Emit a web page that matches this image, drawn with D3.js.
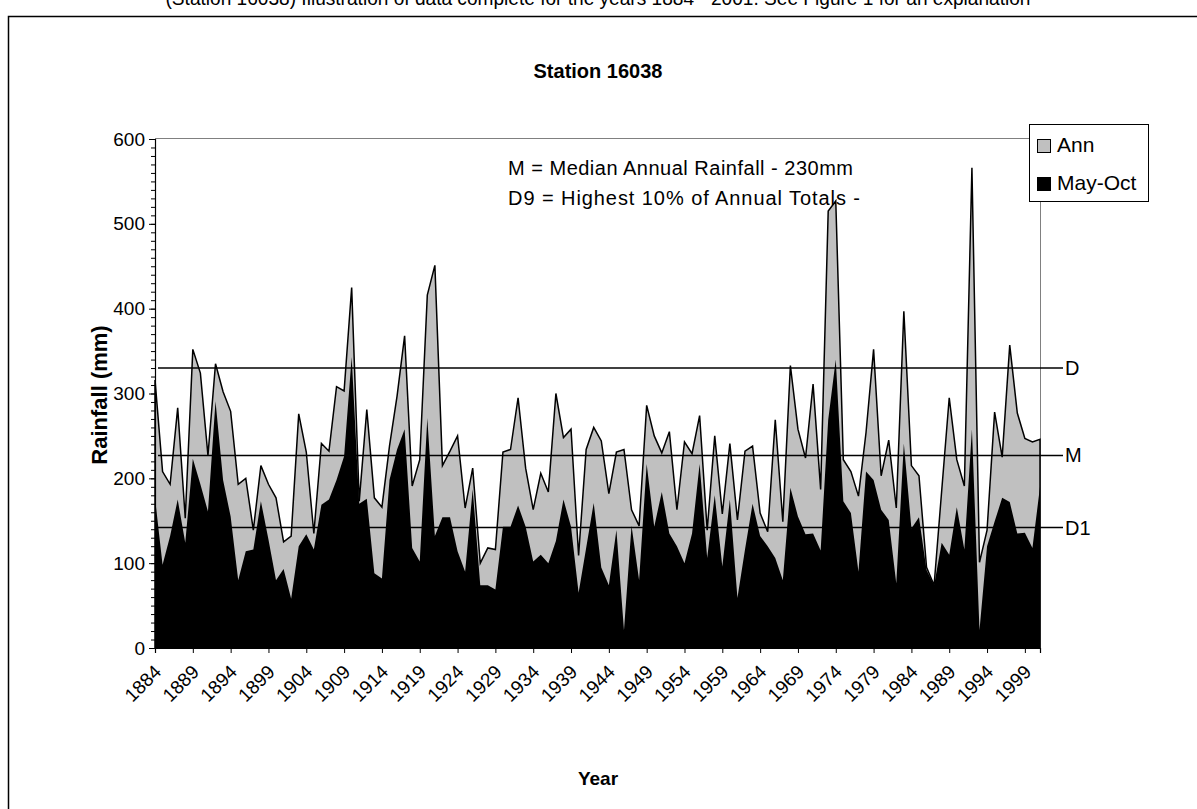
<!DOCTYPE html>
<html>
<head>
<meta charset="utf-8">
<script src="https://cdn.jsdelivr.net/npm/d3@7"></script>
<style>
  body { margin: 0; background: #fff; }
  text { font-family: Arial, "Liberation Sans", sans-serif; }
</style>
</head>
<body>
<div id="wrapper"></div>
<script>
// data, 1884 - 2001
const firstYear = 1884;
const annRain = [
  316, 208, 193, 283, 153, 352, 324, 227, 335, 302,
  279, 193, 200, 139, 215, 193, 177, 125, 132, 276,
  231, 135, 241, 232, 308, 303, 425, 173, 281, 177,
  166, 238, 297, 368, 191, 222, 416, 451, 215, 232,
  250, 165, 212, 100, 118, 116, 231, 234, 295, 212,
  163, 206, 184, 300, 248, 258, 109, 234, 260, 244,
  182, 231, 234, 163, 144, 286, 250, 230, 255, 163,
  243, 229, 274, 139, 250, 158, 241, 151, 232, 238,
  159, 137, 269, 149, 333, 258, 224, 311, 187, 515,
  527, 222, 208, 179, 254, 352, 203, 245, 165, 397,
  215, 203, 95, 74, 185, 295, 222, 191, 566, 101,
  139, 278, 225, 357, 277, 247, 243, 246
];
const mayOctRain = [
  177, 98, 132, 175, 124, 223, 193, 161, 291, 198,
  155, 80, 114, 116, 173, 128, 80, 93, 58, 120,
  134, 116, 169, 175, 198, 226, 343, 170, 176, 88,
  82, 198, 234, 258, 118, 102, 271, 132, 154, 154,
  114, 90, 187, 74, 74, 69, 143, 143, 168, 143,
  102, 110, 100, 126, 175, 143, 65, 118, 171, 95,
  74, 139, 21, 144, 80, 217, 143, 184, 135, 120,
  100, 135, 217, 106, 180, 96, 175, 59, 116, 170,
  132, 120, 106, 80, 189, 155, 134, 135, 115, 269,
  340, 173, 159, 90, 208, 198, 163, 151, 76, 241,
  141, 154, 92, 74, 124, 110, 166, 116, 258, 21,
  120, 149, 177, 172, 135, 136, 118, 190
];
const refLabels = ["D", "M", "D1"];
const refValues = [330, 227, 142];
const yTicks = [0, 100, 200, 300, 400, 500, 600];
const legendLabels = ["Ann", "May-Oct"];
const legendColors = ["#c0c0c0", "#000000"];

function drawChart() {
  const years = annRain.map((d, i) => firstYear + i);
  const dataset = years.map((y, i) => ({ year: y, ann: annRain[i], mayOct: mayOctRain[i] }));
  const xAccessor = (d) => d.year;

  // dimensions
  let dimensions = {
    width: 1197,
    height: 809,
    margin: { top: 139, bottom: 161, left: 155, right: 157 },
  };
  dimensions.boundedWidth = dimensions.width - dimensions.margin.left - dimensions.margin.right;
  dimensions.boundedHeight = dimensions.height - dimensions.margin.top - dimensions.margin.bottom;

  const wrapper = d3.select("#wrapper")
    .append("svg")
    .attr("width", dimensions.width)
    .attr("height", dimensions.height);

  // caption above the chart frame, cut by the top of the page
  wrapper.append("text")
    .attr("x", 598)
    .attr("y", 5)
    .attr("text-anchor", "middle")
    .attr("textLength", 865)
    .attr("lengthAdjust", "spacingAndGlyphs")
    .style("font-size", "20px")
    .text("(Station 16038) Illustration of data complete for the years 1884 - 2001. See Figure 1 for an explanation");

  // chart frame (runs off the right and bottom)
  wrapper.append("rect")
    .attr("x", 8.5).attr("y", 16.5)
    .attr("width", 1300).attr("height", 900)
    .attr("fill", "none").attr("stroke", "#000").attr("stroke-width", 1.5);

  const bounds = wrapper.append("g")
    .attr("transform", `translate(${dimensions.margin.left},${dimensions.margin.top})`);

  // scales
  const xScale = d3.scaleLinear()
    .domain(d3.extent(dataset, xAccessor))
    .range([0, dimensions.boundedWidth]);
  const yScale = d3.scaleLinear()
    .domain([0, 600])
    .range([dimensions.boundedHeight, 0]);

  // plot area border
  bounds.append("rect")
    .attr("x", 0.5).attr("y", -0.5)
    .attr("width", dimensions.boundedWidth).attr("height", dimensions.boundedHeight)
    .attr("fill", "none").attr("stroke", "#808080").attr("stroke-width", 1);

  // areas
  const annArea = d3.area()
    .x((d) => xScale(d.year))
    .y0(yScale(0))
    .y1((d) => yScale(d.ann));
  const mayOctArea = d3.area()
    .x((d) => xScale(d.year))
    .y0(yScale(0))
    .y1((d) => yScale(d.mayOct));

  bounds.append("path")
    .datum(dataset)
    .attr("d", annArea)
    .attr("fill", legendColors[0])
    .attr("stroke", "#000")
    .attr("stroke-width", 1.5);

  bounds.append("path")
    .datum(dataset)
    .attr("d", mayOctArea)
    .attr("fill", legendColors[1]);

  // reference lines D9 / M / D1
  const refGroup = bounds.append("g");
  refGroup.selectAll("line")
    .data(refValues)
    .join("line")
    .attr("x1", 3)
    .attr("x2", 908)
    .attr("y1", (d) => yScale(d))
    .attr("y2", (d) => yScale(d))
    .attr("stroke", "#000")
    .attr("stroke-width", 1.5);
  refGroup.selectAll("text")
    .data(refValues)
    .join("text")
    .attr("x", 910)
    .attr("y", (d) => yScale(d) + 7)
    .style("font-size", "20px")
    .text((d, i) => refLabels[i]);

  // axes
  const xAxisGenerator = d3.axisBottom(xScale)
    .tickValues(d3.range(firstYear, 2000, 5))
    .tickSize(5)
    .tickFormat(d3.format("d"));
  const xAxis = bounds.append("g")
    .attr("transform", `translate(0,${dimensions.boundedHeight})`)
    .call(xAxisGenerator);
  xAxis.select(".domain").attr("stroke", "#000").attr("stroke-width", 1.2);
  xAxis.selectAll(".tick line").attr("stroke", "#000");
  xAxis.selectAll(".tick text")
    .attr("text-anchor", "end")
    .attr("x", 0).attr("y", 0).attr("dy", 0)
    .attr("transform", "translate(7,25) rotate(-45)")
    .style("font-size", "19px")
    .attr("fill", "#000");

  const yMinor = d3.axisLeft(yScale)
    .tickValues(d3.range(0, 601, 10))
    .tickSize(4)
    .tickFormat("");
  bounds.append("g").call(yMinor).select(".domain").remove();

  const yAxisGenerator = d3.axisLeft(yScale)
    .tickValues(yTicks)
    .tickSize(6)
    .tickPadding(4);
  const yAxis = bounds.append("g").call(yAxisGenerator);
  yAxis.select(".domain").attr("stroke", "#000").attr("stroke-width", 1.2);
  yAxis.selectAll(".tick text")
    .style("font-size", "19px")
    .attr("fill", "#000");

  // titles
  wrapper.append("text")
    .attr("x", 598).attr("y", 78)
    .attr("text-anchor", "middle")
    .style("font-size", "20px").style("font-weight", "bold")
    .text("Station 16038");

  wrapper.append("text")
    .attr("text-anchor", "middle")
    .attr("transform", "translate(107,395) rotate(-90)")
    .style("font-size", "22px").style("font-weight", "bold")
    .text("Rainfall (mm)");

  wrapper.append("text")
    .attr("x", 598).attr("y", 785)
    .attr("text-anchor", "middle")
    .style("font-size", "19px").style("font-weight", "bold")
    .text("Year");

  // notes
  wrapper.append("text")
    .attr("x", 508).attr("y", 175)
    .attr("textLength", 345)
    .attr("lengthAdjust", "spacing")
    .style("font-size", "20px")
    .text("M = Median Annual Rainfall - 230mm");
  wrapper.append("text")
    .attr("x", 508).attr("y", 205)
    .attr("textLength", 352)
    .attr("lengthAdjust", "spacing")
    .style("font-size", "20px")
    .text("D9 = Highest 10% of Annual Totals -");

  // legend, overlapping the plot's top-right corner
  const legend = wrapper.append("g").attr("transform", "translate(1029,124)");
  legend.append("rect")
    .attr("x", 0.5).attr("y", 0.5)
    .attr("width", 119).attr("height", 77)
    .attr("fill", "#fff").attr("stroke", "#000");
  const items = legend.selectAll(".item")
    .data(legendLabels)
    .join("g")
    .attr("class", "item")
    .attr("transform", (d, i) => `translate(8,${15 + i * 38})`);
  items.append("rect")
    .attr("x", 0.5).attr("y", 0.5)
    .attr("width", 13).attr("height", 13)
    .attr("fill", (d, i) => legendColors[i])
    .attr("stroke", "#000");
  items.append("text")
    .attr("x", 20).attr("y", 13)
    .style("font-size", "21px")
    .text((d) => d);
}

drawChart();
</script>
</body>
</html>
